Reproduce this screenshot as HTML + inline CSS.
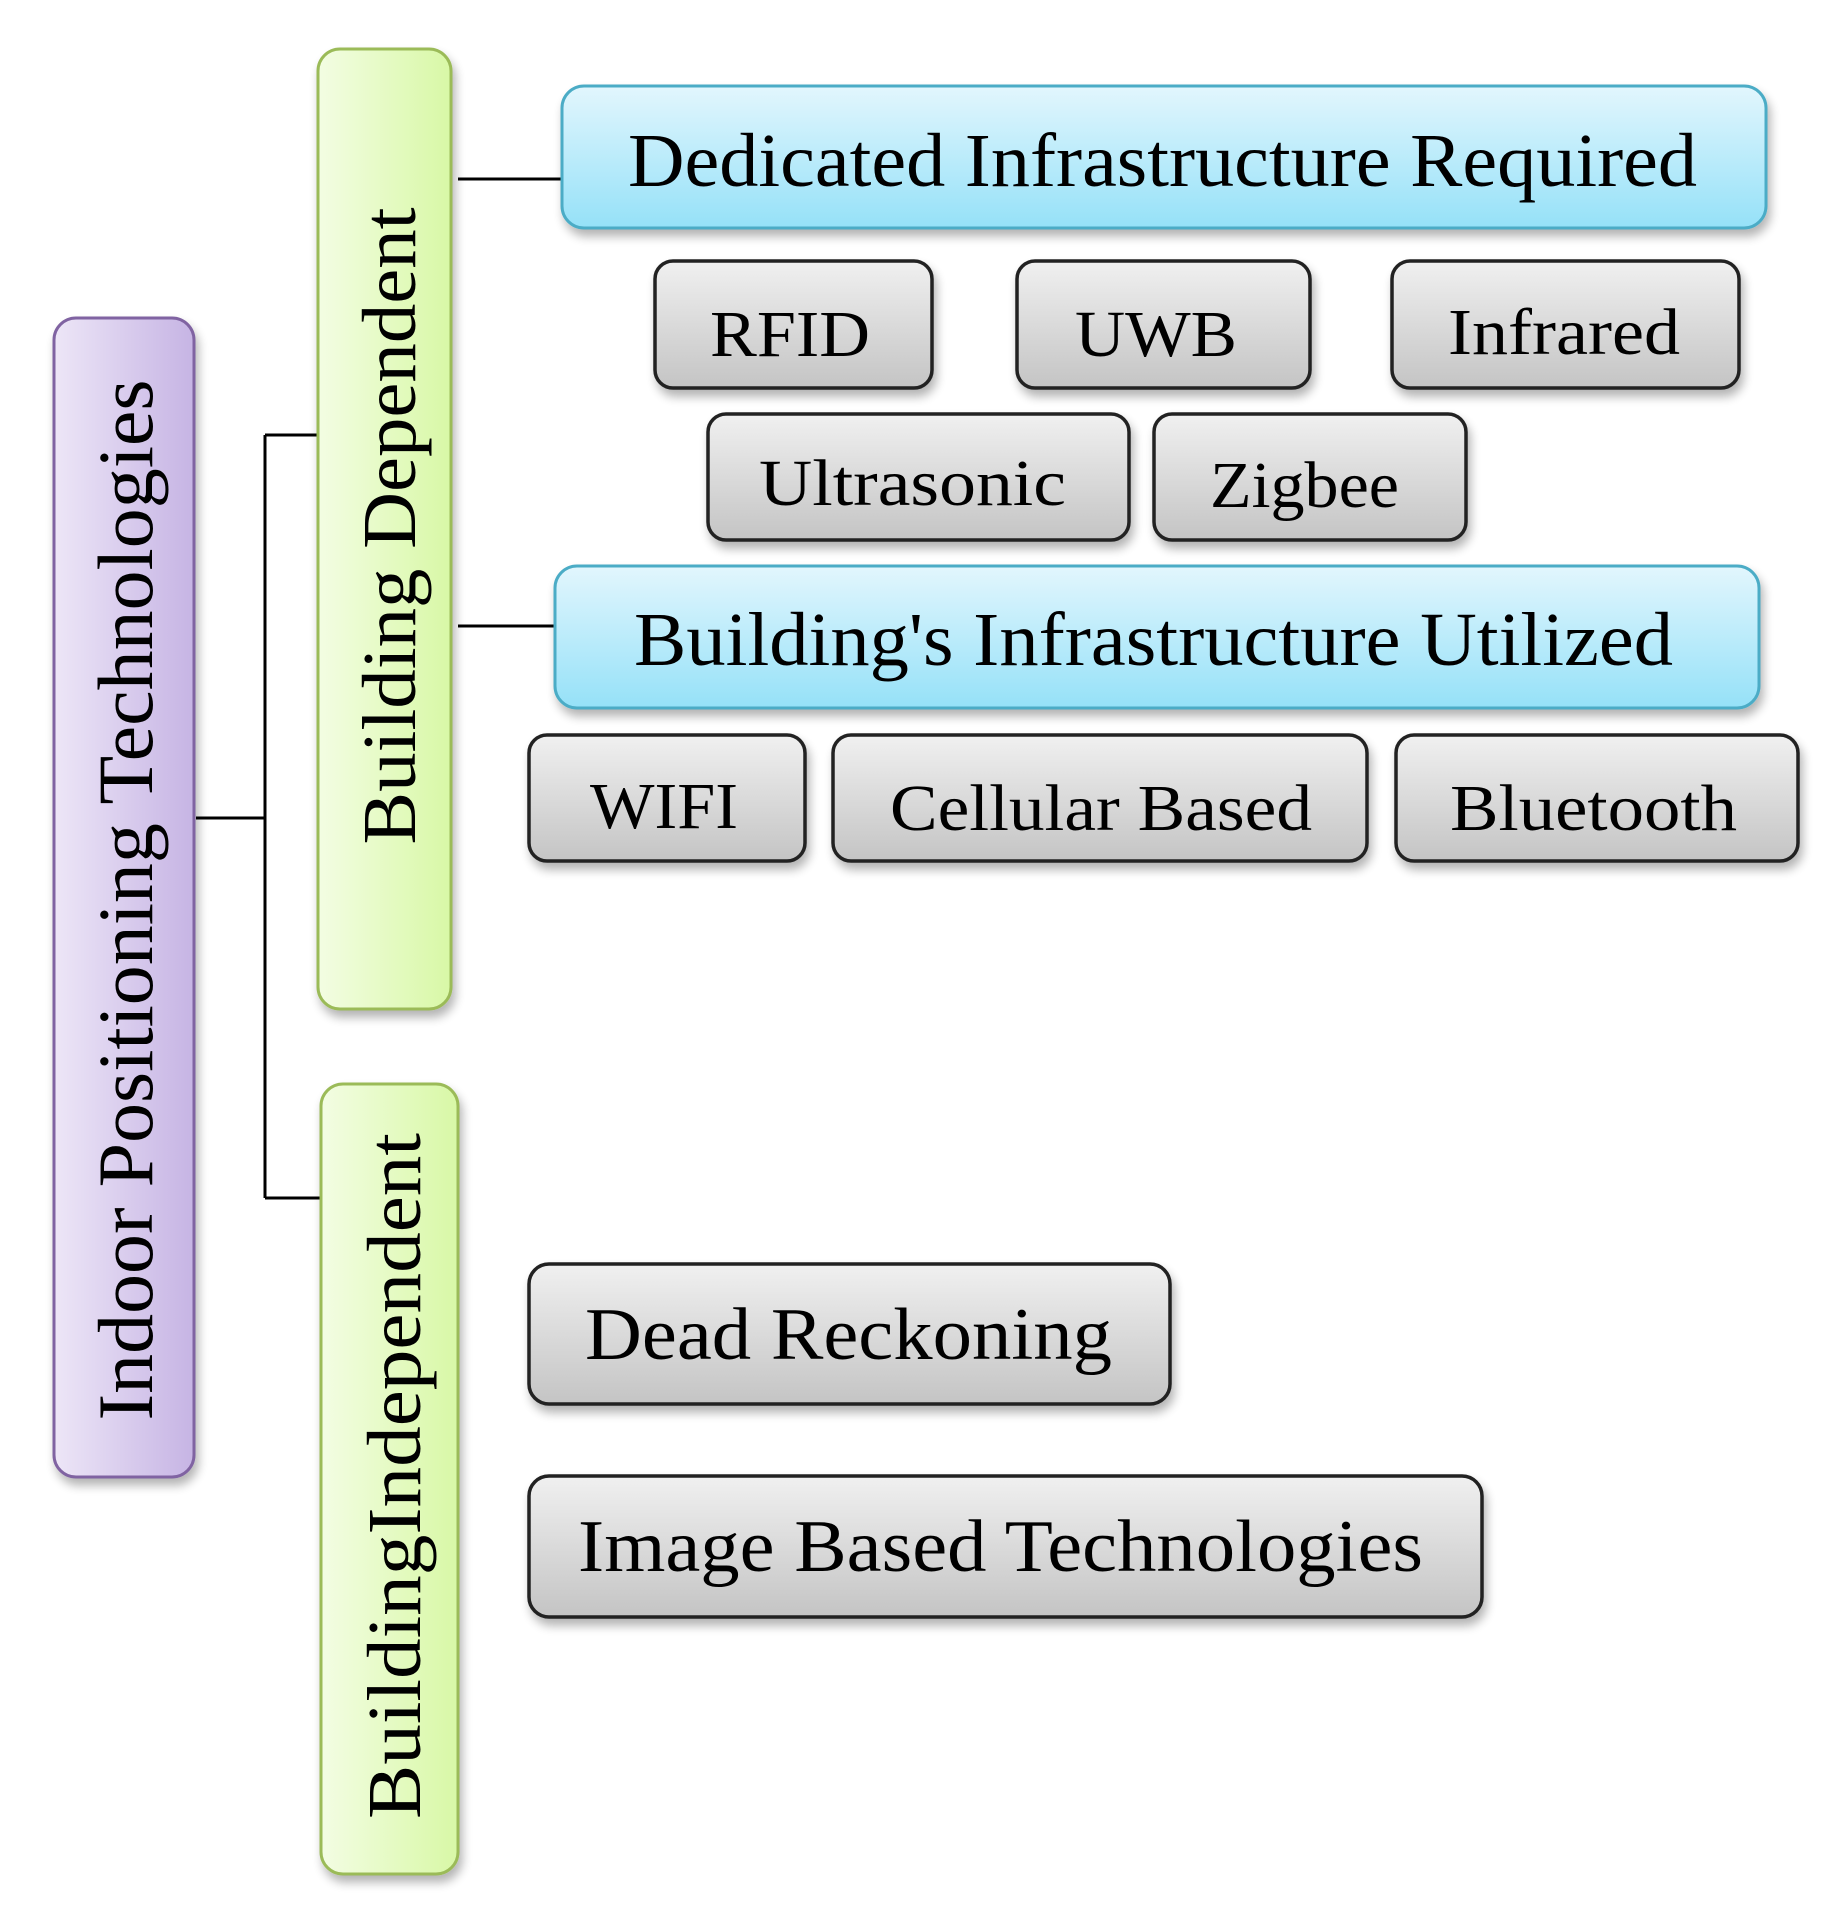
<!DOCTYPE html>
<html><head><meta charset="utf-8"><style>html,body{margin:0;padding:0;background:#fff}svg{display:block}</style></head><body>
<svg width="1837" height="1920" viewBox="0 0 1837 1920" xmlns="http://www.w3.org/2000/svg" font-family="'Liberation Serif', serif">
<defs>
<linearGradient id="gray" x1="0" y1="0" x2="0" y2="1"><stop offset="0" stop-color="#f0f0f0"/><stop offset="1" stop-color="#c4c4c4"/></linearGradient>
<linearGradient id="blue" x1="0" y1="0" x2="0" y2="1"><stop offset="0" stop-color="#e2f6fd"/><stop offset="1" stop-color="#95e1f8"/></linearGradient>
<linearGradient id="green" x1="0" y1="0" x2="1" y2="0"><stop offset="0" stop-color="#f3fde3"/><stop offset="1" stop-color="#d8f8a6"/></linearGradient>
<linearGradient id="purple" x1="0" y1="0" x2="1" y2="0"><stop offset="0" stop-color="#ede6f7"/><stop offset="1" stop-color="#c6b4e4"/></linearGradient>
<filter id="sh" x="-10%" y="-10%" width="125%" height="130%"><feGaussianBlur in="SourceAlpha" stdDeviation="5"/><feOffset dx="3" dy="7"/><feComponentTransfer><feFuncA type="linear" slope="0.3"/></feComponentTransfer><feMerge><feMergeNode/><feMergeNode in="SourceGraphic"/></feMerge></filter>
</defs>
<g stroke="#000" stroke-width="3" fill="none">
<path d="M196 818 H265 M265 435 V1198 M265 435 H320 M265 1198 H322 M458 179 H561 M458 626 H556"/>
</g>
<g filter="url(#sh)">
<rect x="54" y="318" width="140" height="1159" rx="22" fill="url(#purple)" stroke="#8064a2" stroke-width="3"/>
<rect x="318" y="49" width="133" height="960" rx="22" fill="url(#green)" stroke="#9bbb59" stroke-width="3"/>
<rect x="321" y="1084" width="137" height="790" rx="22" fill="url(#green)" stroke="#9bbb59" stroke-width="3"/>
<rect x="562" y="86" width="1204" height="142" rx="22" fill="url(#blue)" stroke="#4bacc6" stroke-width="3"/>
<rect x="555" y="566" width="1204" height="142" rx="22" fill="url(#blue)" stroke="#4bacc6" stroke-width="3"/>
<g fill="url(#gray)" stroke="#222" stroke-width="3.5">
<rect x="655" y="261" width="277" height="127" rx="18"/>
<rect x="1017" y="261" width="293" height="127" rx="18"/>
<rect x="1392" y="261" width="347" height="127" rx="18"/>
<rect x="708" y="414" width="421" height="126" rx="18"/>
<rect x="1154" y="414" width="312" height="126" rx="18"/>
<rect x="529" y="735" width="276" height="126" rx="18"/>
<rect x="833" y="735" width="534" height="126" rx="18"/>
<rect x="1396" y="735" width="402" height="126" rx="18"/>
<rect x="529" y="1264" width="641" height="140" rx="20"/>
<rect x="529" y="1476" width="953" height="141" rx="20"/>
</g>
</g>
<g fill="#000" font-size="66">
<text x="710" y="356" textLength="160" lengthAdjust="spacingAndGlyphs">RFID</text>
<text x="1075" y="356" textLength="162" lengthAdjust="spacingAndGlyphs">UWB</text>
<text x="1448" y="354" textLength="232" lengthAdjust="spacingAndGlyphs">Infrared</text>
<text x="759" y="505" textLength="307" lengthAdjust="spacingAndGlyphs">Ultrasonic</text>
<text x="1210" y="507" textLength="189" lengthAdjust="spacingAndGlyphs">Zigbee</text>
<text x="590" y="828" textLength="148" lengthAdjust="spacingAndGlyphs">WIFI</text>
<text x="890" y="830" textLength="422" lengthAdjust="spacingAndGlyphs">Cellular Based</text>
<text x="1450" y="830" textLength="287" lengthAdjust="spacingAndGlyphs">Bluetooth</text>
<text x="585" y="1359" font-size="74" textLength="527" lengthAdjust="spacingAndGlyphs">Dead Reckoning</text>
<text x="578" y="1571" font-size="74" textLength="845" lengthAdjust="spacingAndGlyphs">Image Based Technologies</text>
<text x="628" y="186" font-size="76" textLength="1069" lengthAdjust="spacingAndGlyphs">Dedicated Infrastructure Required</text>
<text x="634" y="665" font-size="76" textLength="1039" lengthAdjust="spacingAndGlyphs">Building's Infrastructure Utilized</text>
<text transform="translate(152,900) rotate(-90)" text-anchor="middle" font-size="78" textLength="1041" lengthAdjust="spacingAndGlyphs">Indoor Positioning Technologies</text>
<text transform="translate(415,526) rotate(-90)" text-anchor="middle" font-size="76" textLength="637" lengthAdjust="spacingAndGlyphs">Building Dependent</text>
<text transform="translate(420,1476) rotate(-90)" text-anchor="middle" font-size="76" textLength="686" lengthAdjust="spacingAndGlyphs">BuildingIndependent</text>
</g>
</svg>
</body></html>
